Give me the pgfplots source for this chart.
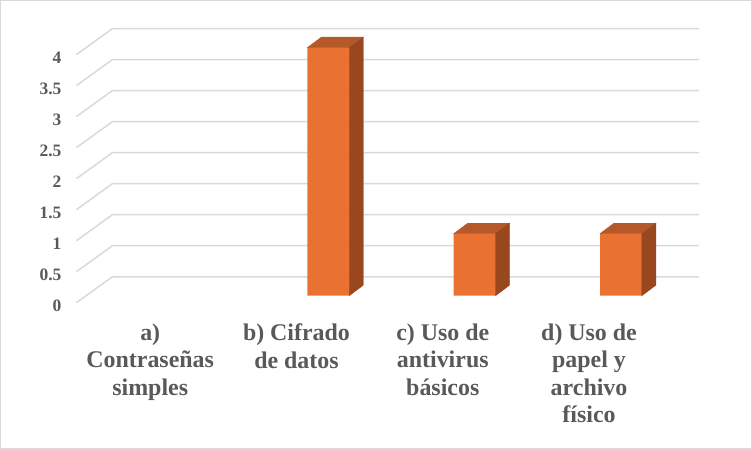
\documentclass[border=0pt]{standalone}
\usepackage{pgfplots}
\usepackage{pgfplotstable}
\pgfplotsset{compat=1.18}
\usepackage{fontspec}
\setmainfont{Liberation Serif}

\definecolor{txt}{HTML}{595959}
\definecolor{gridc}{HTML}{D9D9D9}
\definecolor{barfront}{HTML}{E97132}
\definecolor{bartop}{HTML}{B6592A}
\definecolor{barside}{HTML}{98471E}

% respuestas por opcion
\pgfplotstableread{
x v
0 0
1 4
2 1
3 1
}\datos

\begin{document}
\begin{tikzpicture}
\begin{axis}[
    x=146.8pt, y=62.25pt,
    xmin=-0.656, xmax=3.356,
    ymin=0, ymax=4,
    clip=false,
    axis line style={draw=none},
    major tick length=0pt,
    xtick={0,1,2,3},
    xticklabels={a)\\Contraseñas\\simples, b) Cifrado\\de datos, c) Uso de\\antivirus\\básicos, d) Uso de\\papel y\\archivo\\físico},
    xticklabel style={align=center, anchor=north, inner sep=0pt,
        xshift=-32pt, yshift=-28pt, text=txt,
        font=\fontsize{24}{27.5}\selectfont\bfseries},
    ytick={0,0.5,...,4},
    yticklabel style={anchor=east, inner sep=0pt, xshift=-24.7pt, yshift=-10pt,
        text=txt, font=\fontsize{17.5}{20}\selectfont\bfseries},
    /pgf/number format/assume math mode=true,
]
% marco del grafico
\draw[gridc, line width=1.5pt] (axis cs:-1.2398,-2.474) rectangle (axis cs:3.8910,4.755);
% rejilla en perspectiva
\pgfplotsinvokeforeach{0,0.5,1,1.5,2,2.5,3,3.5,4}{
  \draw[gridc, line width=1.5pt]
    ([xshift=-9.7pt,yshift=-7pt]axis cs:-0.656,#1)
    -- ([xshift=26.3pt,yshift=19pt]axis cs:-0.656,#1)
    -- ([xshift=26.3pt,yshift=19pt]axis cs:3.356,#1);
}
% cara frontal (la barra de altura 0 no se dibuja)
\addplot[ybar, bar width=42pt, fill=barfront, draw=none,
    skip coords between index={0}{1}] table[x=x, y=v] {\datos};
% tapa y lateral
\addplot[scatter, only marks, mark=*, mark size=0pt,
    visualization depends on={\thisrow{v} \as \val},
    scatter/use mapped color={draw opacity=0, fill opacity=0},
    scatter/@pre marker code/.code={
      \pgfmathsetmacro{\hh}{\val*62.25}
      \pgfmathsetmacro{\hb}{10.5-\val*62.25}
      \ifdim\hh pt>0pt
        \fill[bartop] (-21pt,0pt) -- (21pt,0pt) -- (35pt,10.5pt) -- (-7pt,10.5pt) -- cycle;
        \fill[barside] (21pt,0pt) -- (35pt,10.5pt) -- (35pt,\hb pt) -- (21pt,-\hh pt) -- cycle;
      \fi
    },
    scatter/@post marker code/.code={},
] table[x=x, y=v] {\datos};
\end{axis}
\end{tikzpicture}
\end{document}
